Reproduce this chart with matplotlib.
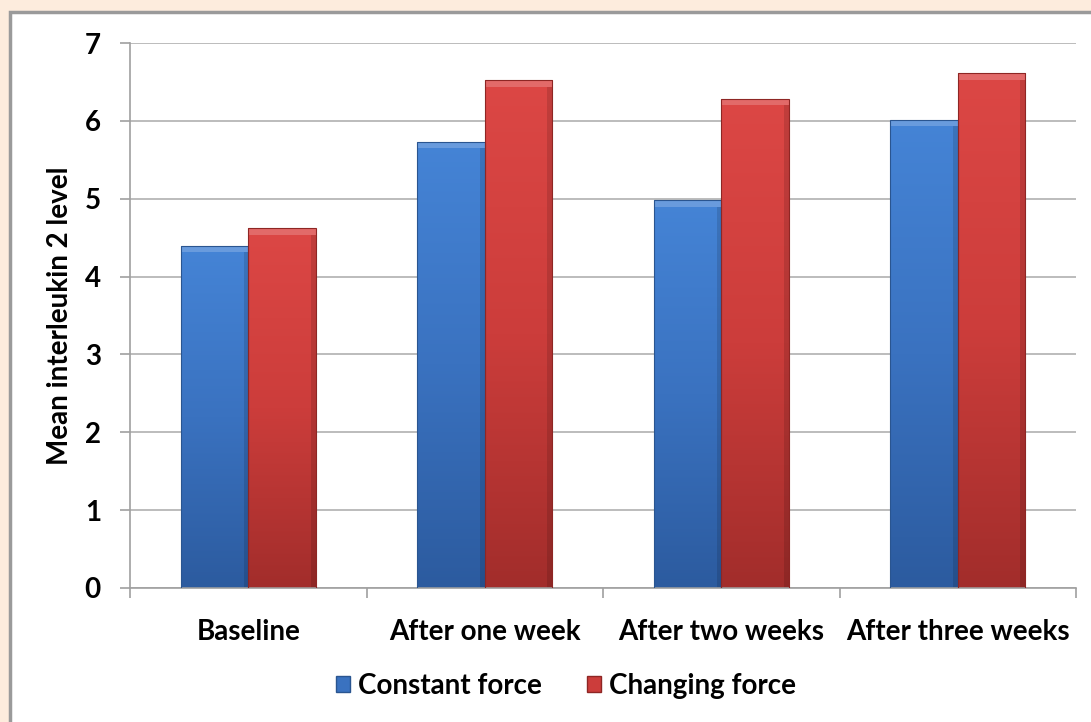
import matplotlib.pyplot as plt
import numpy as np
from matplotlib.patches import Rectangle
from matplotlib.colors import LinearSegmentedColormap

categories = ["Baseline", "After one week", "After two weeks", "After three weeks"]
constant_force = [4.39, 5.73, 4.98, 6.01]
changing_force = [4.62, 6.52, 6.28, 6.61]
series_names = ["Constant force", "Changing force"]

plt.rcParams["font.family"] = ["Lato", "DejaVu Sans"]
plt.rcParams["font.weight"] = "bold"
FS = 20

fig = plt.figure(figsize=(10.91, 7.22), dpi=100)
fig.patch.set_facecolor("#fdecdd")

# white panel with grey frame, running off the right and bottom edges
panel = Rectangle((10 / 1091, -0.05), 1.1, 1 - 12 / 722 + 0.05,
                  transform=fig.transFigure, facecolor="white",
                  edgecolor="#9a9a9a", linewidth=2.5, zorder=-10)
fig.patches.append(panel)

ax = fig.add_axes([130 / 1091, 1 - 588 / 722, 946 / 1091, 545 / 722])
ax.set_facecolor("none")

blue_cmap = LinearSegmentedColormap.from_list("b", ["#4584d6", "#3a72c0", "#2c5b9f"])
red_cmap = LinearSegmentedColormap.from_list("r", ["#dc4745", "#cc3d3b", "#a22d2b"])

width = 0.285
x = np.arange(len(categories))
grad = np.linspace(0, 1, 256).reshape(-1, 1)


def shaded_bars(xpos, vals, cmap, edge):
    bars = ax.bar(xpos, vals, width, facecolor="none", edgecolor=edge,
                  linewidth=0.8, zorder=3)
    for b in bars:
        x0, y0 = b.get_x(), b.get_y()
        w, h = b.get_width(), b.get_height()
        im = ax.imshow(grad, cmap=cmap, aspect="auto", origin="upper",
                       extent=(x0, x0 + w, y0, y0 + h), zorder=2)
        im.set_clip_path(b)
        # bevel highlight along the top, shade down the right side
        ax.add_patch(Rectangle((x0, y0 + h - 0.08), w, 0.08,
                               facecolor="white", alpha=0.2,
                               edgecolor="none", zorder=2.5))
        ax.add_patch(Rectangle((x0 + w * 0.93, y0), w * 0.07, h - 0.08,
                               facecolor="black", alpha=0.12,
                               edgecolor="none", zorder=2.5))
    return bars


b1 = shaded_bars(x - width / 2, constant_force, blue_cmap, "#2a5590")
b2 = shaded_bars(x + width / 2, changing_force, red_cmap, "#8e2624")

ax.set_xlim(-0.5, len(categories) - 0.5)
ax.set_ylim(0, 7)
ax.set_yticks(range(0, 8))
ax.yaxis.grid(True, color="#b0b0b0", linewidth=1.2, zorder=0)
ax.set_axisbelow(True)

ax.set_xticks(np.arange(-0.5, len(categories) + 0.5, 1.0))
ax.set_xticklabels([])
ax.set_xticks(x, minor=True)
ax.set_xticklabels(categories, minor=True, fontsize=FS, fontweight="bold")
ax.tick_params(axis="x", which="minor", length=0, pad=22)
ax.tick_params(axis="x", which="major", length=7, color="#a0a0a0", width=1.2)
ax.tick_params(axis="y", length=7, color="#a0a0a0", width=1.2, pad=14,
               labelsize=FS)
for lab in ax.get_yticklabels():
    lab.set_fontweight("bold")

for side in ["top", "right"]:
    ax.spines[side].set_visible(False)
for side in ["left", "bottom"]:
    ax.spines[side].set_color("#a0a0a0")
    ax.spines[side].set_linewidth(1.2)

ax.set_ylabel("Mean interleukin 2 level", fontsize=FS, fontweight="bold",
              labelpad=8)

h1 = Rectangle((0, 0), 1, 1, facecolor="#3a72c0", edgecolor="#2a5590")
h2 = Rectangle((0, 0), 1, 1, facecolor="#cc3d3b", edgecolor="#8e2624")
fig.legend([h1, h2], series_names, loc="center", ncol=2,
           bbox_to_anchor=(566 / 1091, 1 - 686 / 722), frameon=False,
           prop={"size": FS, "weight": "bold"}, handlelength=0.5,
           handleheight=0.5, handletextpad=0.3, columnspacing=1.6)

fig.savefig("out.png", dpi=100, facecolor=fig.get_facecolor())
